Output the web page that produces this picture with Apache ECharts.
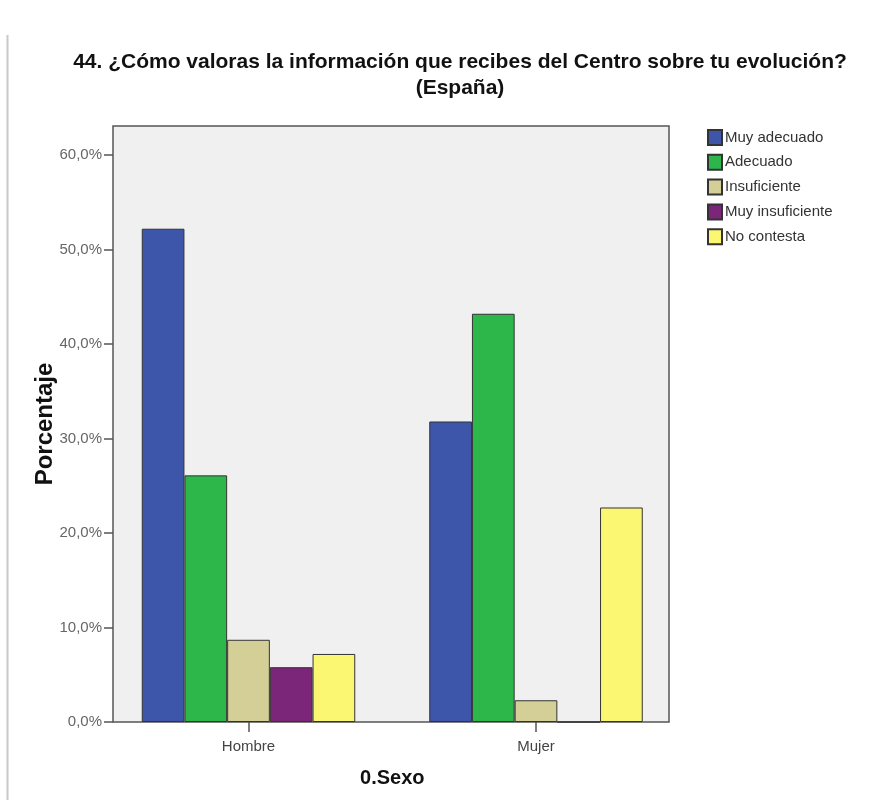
<!DOCTYPE html>
<html>
<head>
<meta charset="utf-8">
<script src="https://cdn.jsdelivr.net/npm/echarts@6/dist/echarts.min.js"></script>
<style>
html,body{margin:0;padding:0;background:#fff;}
#c{width:872px;height:800px;}
</style>
</head>
<body>
<div id="c"></div>
<script>
const categories = ['Hombre', 'Mujer'];
const seriesNames = ['Muy adecuado', 'Adecuado', 'Insuficiente', 'Muy insuficiente', 'No contesta'];
const muyAdecuado = [52.2, 31.8];
const adecuado = [26.1, 43.2];
const insuficiente = [8.7, 2.3];
const muyInsuficiente = [5.8, 0];
const noContesta = [7.2, 22.7];
const yTicks = [0, 10, 20, 30, 40, 50, 60];
const colors = ['#3d56aa', '#2db74b', '#d4cf97', '#7c2679', '#fcf773'];

const values = [muyAdecuado, adecuado, insuficiente, muyInsuficiente, noContesta];
const FONT = 'Liberation Sans';
const yMax = 63.07;

const chart = echarts.init(document.getElementById('c'), null, {renderer: 'canvas'});
const fmt = v => v.toFixed(1).replace('.', ',') + '%';

chart.setOption({
  animation: false,
  title: {
    text: '44. ¿Cómo valoras la información que recibes del Centro sobre tu evolución?\n(España)',
    left: 455, top: 44, textAlign: 'center',
    textStyle: {fontFamily: FONT, fontWeight: 'bold', fontSize: 21, color: '#111', lineHeight: 26}
  },
  legend: {
    orient: 'vertical', left: 702, top: 124,
    itemWidth: 14, itemHeight: 15, itemGap: 7.8,
    icon: 'rect',
    data: seriesNames,
    textStyle: {fontFamily: FONT, fontSize: 15, color: '#333', padding: [0, 0, 0, -2]}
  },
  graphic: [{
    type: 'line', shape: {x1: 7.5, y1: 35, x2: 7.5, y2: 800},
    style: {stroke: '#c8c8c8', lineWidth: 2}
  }],
  grid: [
    {left: 113, top: 126, width: 556, height: 596, show: true, backgroundColor: '#f0f0f0',
     borderColor: '#555', borderWidth: 1.5, containLabel: false},
    {left: 104.75, top: 126, width: 575, height: 596, containLabel: false}
  ],
  xAxis: [
    {gridIndex: 0, type: 'value', min: 0, max: 1, show: false},
    {gridIndex: 1, type: 'category', data: categories,
     name: '0.Sexo', nameLocation: 'middle', nameGap: 46, nameMoveOverlap: false,
     nameTextStyle: {fontFamily: FONT, fontWeight: 'bold', fontSize: 20, color: '#111'},
     axisLine: {show: false},
     axisTick: {show: true, alignWithLabel: true, length: 10, lineStyle: {color: '#555', width: 1.5}},
     axisLabel: {fontFamily: FONT, fontSize: 15, color: '#444', margin: 17}}
  ],
  yAxis: [
    {gridIndex: 0, type: 'value', min: 0, max: yMax, interval: 10,
     name: 'Porcentaje', nameLocation: 'middle', nameGap: 56, nameMoveOverlap: false,
     nameTextStyle: {fontFamily: FONT, fontWeight: 'bold', fontSize: 24, color: '#111'},
     axisLine: {show: false},
     axisTick: {show: true, length: 9, lineStyle: {color: '#555', width: 1.5}, customValues: yTicks},
     axisLabel: {fontFamily: FONT, fontSize: 15, color: '#666', margin: 11, customValues: yTicks, formatter: fmt},
     splitLine: {show: false}},
    {gridIndex: 1, type: 'value', min: 0, max: yMax, show: false, splitLine: {show: false}}
  ],
  series: seriesNames.map((n, i) => ({
    name: n, type: 'bar', xAxisIndex: 1, yAxisIndex: 1,
    data: values[i], barWidth: 42.7, barGap: '0%',
    itemStyle: {color: colors[i], borderColor: '#333', borderWidth: 1}
  }))
});
</script>
</body>
</html>
